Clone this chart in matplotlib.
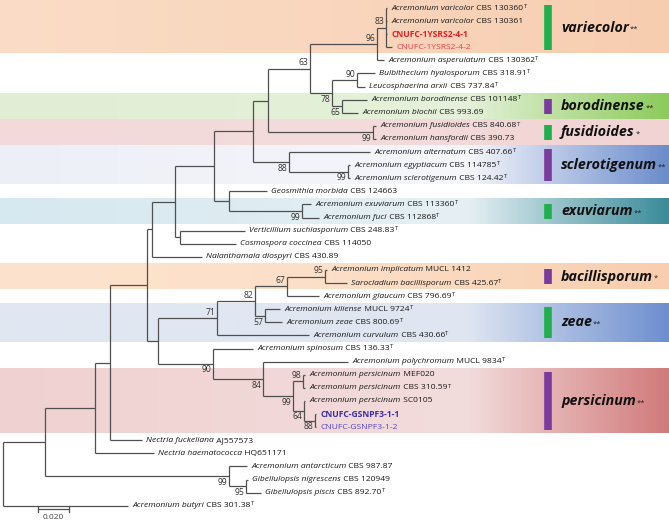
import re
import numpy as np
import matplotlib
matplotlib.use('Agg')
import matplotlib.pyplot as plt
from matplotlib.colors import LinearSegmentedColormap

plt.rcParams['font.family'] = ['Open Sans', 'DejaVu Sans']

# leaves, top to bottom (index = row in the tree)
species = ['Acremonium varicolor', 'Acremonium varicolor', '', '',
           'Acremonium asperulatum', 'Bulbithecium hyalosporum', 'Leucosphaerina arxii',
           'Acremonium borodinense', 'Acremonium blochii', 'Acremonium fusidioides',
           'Acremonium hansfordii', 'Acremonium alternatum', 'Acremonium egyptiacum',
           'Acremonium sclerotigenum', 'Geosmithia morbida', 'Acremonium exuviarum',
           'Acremonium fuci', 'Verticillium suchlasporium', 'Cosmospora coccinea',
           'Nalanthamala diospyri', 'Acremonium implicatum', 'Sarocladium bacillisporum',
           'Acremonium glaucum', 'Acremonium kiliense', 'Acremonium zeae',
           'Acremonium curvulum', 'Acremonium spinosum', 'Acremonium polychromum',
           'Acremonium persicinum', 'Acremonium persicinum', 'Acremonium persicinum', '', '',
           'Nectria fuckeliana', 'Nectria haematococca', 'Acremonium antarcticum',
           'Gibellulopsis nigrescens', 'Gibellulopsis piscis', 'Acremonium butyri']
strains = ['CBS 130360', 'CBS 130361', 'CNUFC-1YSRS2-4-1', 'CNUFC-1YSRS2-4-2',
           'CBS 130362', 'CBS 318.91', 'CBS 737.84', 'CBS 101148', 'CBS 993.69',
           'CBS 840.68', 'CBS 390.73', 'CBS 407.66', 'CBS 114785', 'CBS 124.42',
           'CBS 124663', 'CBS 113360', 'CBS 112868', 'CBS 248.83', 'CBS 114050',
           'CBS 430.89', 'MUCL 1412', 'CBS 425.67', 'CBS 796.69', 'MUCL 9724',
           'CBS 800.69', 'CBS 430.66', 'CBS 136.33', 'MUCL 9834', 'MEF020',
           'CBS 310.59', 'SC0105', 'CNUFC-GSNPF3-1-1', 'CNUFC-GSNPF3-1-2',
           'AJ557573', 'HQ651171', 'CBS 987.87', 'CBS 120949', 'CBS 892.70', 'CBS 301.38']
ex_type = [0, 4, 5, 6, 7, 9, 11, 12, 13, 15, 16, 17, 21, 22, 23, 24, 25, 26, 27, 29, 37, 38]
isolates = {2: ('#e41f26', 'bold'), 3: ('#e8414b', 'normal'),
            31: ('#3b2ea6', 'bold'), 32: ('#5547c0', 'normal')}

# tree: leaf ids refer to the lists above, internal labels are bootstrap values
newick = ("(((((((((((((0:0.0006,1:0.0006,2:0.0006,3:0.0039)83:0.0058,4:0.0045)96:0.0432,"
          "((5:0.0116,6:0.0052)90:0.0161,(7:0.0161,8:0.0103)65:0.0065)78:0.0142)63:0.0271,"
          "(9:0.0019,10:0.0019)99:0.0677):0.0097,"
          "(11:0.0523,(12:0.0013,13:0.0013)99:0.0381)88:0.0232):0.0252,"
          "(14:0.0245,(15:0.0058,16:0.0110)99:0.0471):0.0097):0.0252,"
          "(17:0.0419,18:0.0361):0.0032):0.0148,19:0.0323):0.0032,"
          "(((((20:0.0013,21:0.0142)95:0.0245,22:0.0206)67:0.0206,"
          "(23:0.0097,24:0.0110)57:0.0065)82:0.0245,25:0.0594)71:0.0381,"
          "(26:0.0258,(27:0.0548,((28:0.0013,29:0.0013)98:0.0065,"
          "(30:0.0006,(31:0.0006,32:0.0006)88:0.0071)64:0.0071)99:0.0194)84:0.0323)90:0.0355"
          "):0.0071):0.0239,33:0.0206):0.0097,34:0.0381):0.0323,"
          "(35:0.0116,(36:0.0013,37:0.0097)95:0.0110)99:0.1187):0.0271,38:0.0806);")

clade_names = ['variecolor', 'borodinense', 'fusidioides', 'sclerotigenum',
               'exuviarum', 'bacillisporum', 'zeae', 'persicinum']
clade_rows = [(0, 3), (7, 8), (9, 10), (11, 13), (15, 16), (20, 21), (23, 25), (28, 32)]
clade_stars = ['**', '**', '*', '**', '**', '*', '**', '**']
clade_bar = ['#1fb04d', '#7a3a9e', '#1fb04d', '#7a3a9e', '#1fb04d', '#7a3a9e', '#1fb04d', '#7a3a9e']
clade_fill = [
    ['#fbdcc6', '#f9d6bd', '#f7cdb0'],
    ['#e1eed4', '#e5f1da', '#8dcb5b'],
    ['#f3d9d9', '#f4dcdc', '#f1d3d3'],
    ['#eceff6', '#f6f7fb', '#6c8dcc'],
    ['#d6e8f0', '#e6f0f4', '#3c8c9a'],
    ['#fde3ce', '#fcdfc8', '#f8ceae'],
    ['#e2e8f2', '#dfe6f2', '#6e8fcf'],
    ['#f0d1d1', '#f3dcdc', '#d27b7b'],
]


def parse(s):
    pos = 0

    def node():
        nonlocal pos
        kids = []
        if s[pos] == '(':
            pos += 1
            kids.append(node())
            while s[pos] == ',':
                pos += 1
                kids.append(node())
            pos += 1
        lab = re.match(r'[^:,();]*', s[pos:]).group(0)
        pos += len(lab)
        ln = 0.0
        if s[pos] == ':':
            m = re.match(r':([0-9.]+)', s[pos:])
            ln = float(m.group(1))
            pos += len(m.group(0))
        return {'label': lab, 'len': ln, 'kids': kids}

    return node()


def layout(n, x0):
    n['x'] = x0 + n['len']
    if n['kids']:
        for k in n['kids']:
            layout(k, n['x'])
        n['y'] = (n['kids'][0]['y'] + n['kids'][-1]['y']) / 2
    else:
        n['y'] = int(n['label'])


tree = parse(newick)
layout(tree, 0.0)

PX = 1550.0      # pixels per substitution
ROW = 13.1       # pixels per row


def xd(p):
    return (p - 3) / PX


def yd(p):
    return (p - 8) / ROW


fig = plt.figure(figsize=(6.69, 5.22), dpi=100)
ax = fig.add_axes([0, 0, 1, 1])
ax.set_xlim(xd(0), xd(669))
ax.set_ylim(yd(522), yd(0))
ax.axis('off')

# clade bands
for i, name in enumerate(clade_names):
    a, b = clade_rows[i]
    top = a - 0.5 + 0.04 if a > 0 else yd(0)
    bot = b + 0.5 - 0.04
    stops = [0, 0.5, 1] if clade_stars[i] == '*' or i == 0 else [0, 0.7, 1]
    cmap = LinearSegmentedColormap.from_list(name, list(zip(stops, clade_fill[i])))
    grad = np.linspace(0, 1, 300)[None, :]
    ax.imshow(grad, cmap=cmap, extent=(xd(0), xd(669), bot, top), aspect='auto',
              interpolation='bicubic', zorder=0)
    mid = (a + b) / 2
    half = (b - a + 1) / 2 - 0.3 if b - a > 1 else 0.57
    ax.plot([xd(548), xd(548)], [mid - half, mid + half], color=clade_bar[i], lw=5.5,
            solid_capstyle='butt', zorder=2)
    t = ax.text(xd(561), mid, name, fontsize=10.3, fontweight='bold', style='italic',
                va='center', ha='left', color='#111111', zorder=3)
    ax.annotate(clade_stars[i], xy=(1, 1), xycoords=t, xytext=(0.8, -4),
                textcoords='offset points', fontsize=5.5, va='top', ha='left', color='#222222')

# branches
segs = []
FS = 6.1
TXT = '#1a1a1a'


def leaf_label(i, x):
    if i in isolates:
        col, wt = isolates[i]
        ax.annotate(strains[i], (x, i), xytext=(3, 0), textcoords='offset points',
                    va='center', fontsize=FS, color=col, fontweight=wt)
        return
    t1 = ax.annotate(species[i], (x, i), xytext=(3, 0), textcoords='offset points',
                     va='center', fontsize=FS, style='italic', color=TXT)
    t2 = ax.annotate(' ' + strains[i], xy=(1, 0.5), xycoords=t1, va='center', ha='left',
                     fontsize=FS, color=TXT)
    if i in ex_type:
        ax.annotate('T', xy=(1, 1), xycoords=t2, xytext=(0.3, 0.6), textcoords='offset points',
                    va='top', ha='left', fontsize=4.2, color=TXT)


def draw(n, xp):
    if xp is not None:
        segs.append(((xp, n['x']), (n['y'], n['y'])))
    if n['kids']:
        segs.append(((n['x'], n['x']), (n['kids'][0]['y'], n['kids'][-1]['y'])))
        for j, k in enumerate(n['kids']):
            draw(k, n['x'])
            if k['kids'] and k['label']:
                up = j == 0
                ax.annotate(k['label'], (k['x'], k['y']), xytext=(-1.2, 1.0 if up else -1.2),
                            textcoords='offset points', ha='right',
                            va='bottom' if up else 'top', fontsize=6.2, color='#333333')
    else:
        leaf_label(n['y'], n['x'])


draw(tree, None)
for xs, ys in segs:
    ax.plot(xs, ys, color='#505050', lw=0.9, solid_capstyle='butt', zorder=4)

# scale bar
sy = yd(509.5)
ax.plot([xd(38), xd(38) + 0.02], [sy, sy], color='#505050', lw=0.9)
for xx in (xd(38), xd(38) + 0.02):
    ax.plot([xx, xx], [sy - 0.2, sy + 0.2], color='#505050', lw=0.9)
ax.text(xd(38) + 0.01, yd(518), '0.020', ha='center', va='center', fontsize=6, color='#444444')

fig.savefig('out.png', dpi=100)
